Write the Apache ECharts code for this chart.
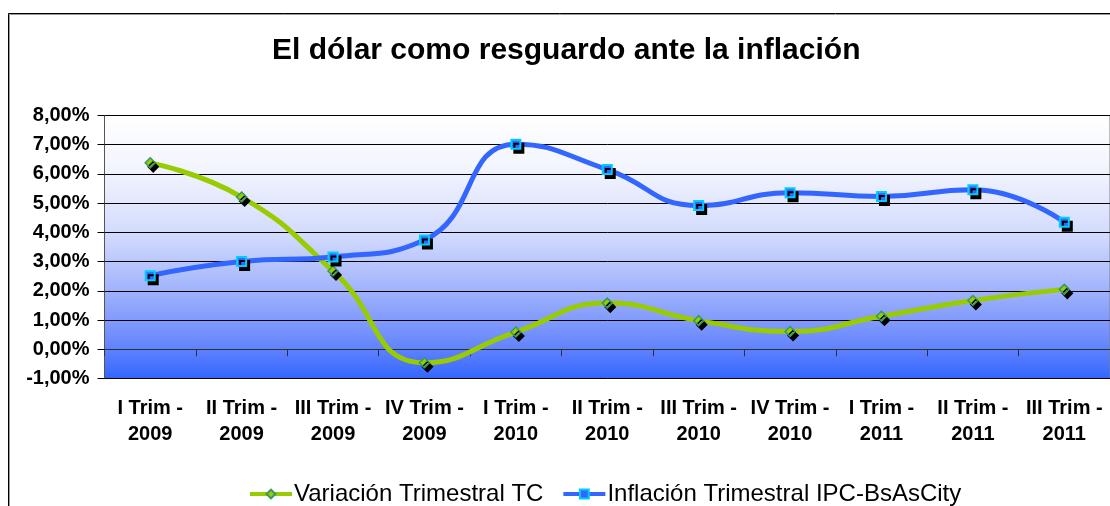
<!DOCTYPE html>
<html>
<head>
<meta charset="utf-8">
<script src="https://cdn.jsdelivr.net/npm/echarts@6/dist/echarts.min.js"></script>
<style>
html,body{margin:0;padding:0;background:#fff;}
#chart{width:1110px;height:506px;}
</style>
</head>
<body>
<div id="chart"></div>
<script>
// ---- data ----
var titleText = 'El dólar como resguardo ante la inflación';
var categories = [
  'I Trim -\n2009', 'II Trim -\n2009', 'III Trim -\n2009', 'IV Trim -\n2009',
  'I Trim -\n2010', 'II Trim -\n2010', 'III Trim -\n2010', 'IV Trim -\n2010',
  'I Trim -\n2011', 'II Trim -\n2011', 'III Trim -\n2011'
];
var seriesNames = ['Variación Trimestral TC', 'Inflación Trimestral IPC-BsAsCity'];
var variacionTC = [6.38, 5.21, 2.68, -0.46, 0.59, 1.58, 0.98, 0.61, 1.13, 1.67, 2.05];
var inflacionIPC = [2.52, 3.00, 3.16, 3.74, 7.02, 6.15, 4.92, 5.36, 5.23, 5.46, 4.35];
var yMin = -1, yMax = 8, yInterval = 1;

var FONT = '"Liberation Sans", Arial, sans-serif';
var chart = echarts.init(document.getElementById('chart'), null, {renderer: 'canvas'});

var option = {
  animation: false,
  backgroundColor: '#ffffff',
  title: {
    text: titleText,
    left: 267,
    top: 31,
    textStyle: {fontFamily: FONT, fontSize: 30, fontWeight: 'bold', color: '#000'}
  },
  legend: {
    left: 243,
    top: 477,
    itemWidth: 42,
    itemHeight: 11,
    itemGap: 18,
    textStyle: {fontFamily: FONT, fontSize: 24, color: '#000', padding: [0, 0, 0, -3]},
    itemStyle: {shadowBlur: 0, shadowOffsetX: 0, shadowOffsetY: 0, shadowColor: 'rgba(0,0,0,0)'},
    lineStyle: {width: 4},
    data: seriesNames
  },
  graphic: [
    {type: 'rect', silent: true, z: 100, shape: {x: 9.5, y: 14.5, width: 1200, height: 600},
     style: {fill: 'none', stroke: '#9a9a9a', lineWidth: 1}},
    {type: 'rect', silent: true, z: 101, shape: {x: 8.5, y: 13.5, width: 1200, height: 600},
     style: {fill: 'none', stroke: '#000', lineWidth: 1}}
  ],
  grid: {
    left: 104.5,
    top: 115.5,
    width: 1008,
    height: 263,
    show: true,
    borderColor: '#808080',
    borderWidth: 1,
    backgroundColor: {
      type: 'linear', x: 0, y: 0, x2: 0, y2: 1,
      colorStops: [
        {offset: 0, color: '#ffffff'},
        {offset: 0.2, color: '#f3f5fe'},
        {offset: 0.45, color: '#d3dbfd'},
        {offset: 0.65, color: '#a4b6fc'},
        {offset: 0.85, color: '#6d8bfd'},
        {offset: 1, color: '#3366ff'}
      ]
    }
  },
  xAxis: [
    {
      type: 'category',
      data: categories,
      boundaryGap: true,
      axisLine: {show: true, onZero: true, lineStyle: {color: '#303030', width: 1}},
      axisTick: {show: true, length: 7, inside: false, lineStyle: {color: '#303030'}},
      axisLabel: {show: false},
      splitLine: {show: false}
    },
    {
      type: 'category',
      data: categories,
      position: 'bottom',
      boundaryGap: true,
      axisLine: {show: false, onZero: false},
      axisTick: {show: false},
      axisLabel: {
        show: true, margin: 17, interval: 0,
        fontFamily: FONT, fontSize: 20, fontWeight: 'bold', color: '#000', lineHeight: 26
      },
      splitLine: {show: false}
    }
  ],
  yAxis: {
    type: 'value',
    min: yMin, max: yMax, interval: yInterval,
    axisLine: {show: true, lineStyle: {color: '#555', width: 1}},
    axisTick: {show: true, length: 7, inside: false, lineStyle: {color: '#000'}},
    axisLabel: {
      margin: 15,
      fontFamily: FONT, fontSize: 20, fontWeight: 'bold', color: '#000',
      formatter: function (v) { return v.toFixed(2).replace('.', ',') + '%'; }
    },
    splitLine: {show: true, lineStyle: {color: '#000', width: 1}}
  },
  series: [
    {
      name: seriesNames[0],
      type: 'line',
      xAxisIndex: 0,
      data: variacionTC,
      smooth: 0.5,
      symbol: 'diamond',
      symbolSize: 10,
      showAllSymbol: true,
      z: 3,
      lineStyle: {color: '#99cc00', width: 5},
      itemStyle: {color: '#99cc00', borderColor: '#339966', borderWidth: 1.5,
                  shadowColor: '#000', shadowBlur: 0, shadowOffsetX: 3, shadowOffsetY: 4}
    },
    {
      name: seriesNames[1],
      type: 'line',
      xAxisIndex: 0,
      data: inflacionIPC,
      smooth: 0.5,
      symbol: 'rect',
      symbolSize: 9,
      showAllSymbol: true,
      z: 4,
      lineStyle: {color: '#3366ff', width: 5},
      itemStyle: {color: '#3366ff', borderColor: '#00ccff', borderWidth: 2,
                  shadowColor: '#000', shadowBlur: 0, shadowOffsetX: 3, shadowOffsetY: 4}
    }
  ]
};
chart.setOption(option);
</script>
</body>
</html>
